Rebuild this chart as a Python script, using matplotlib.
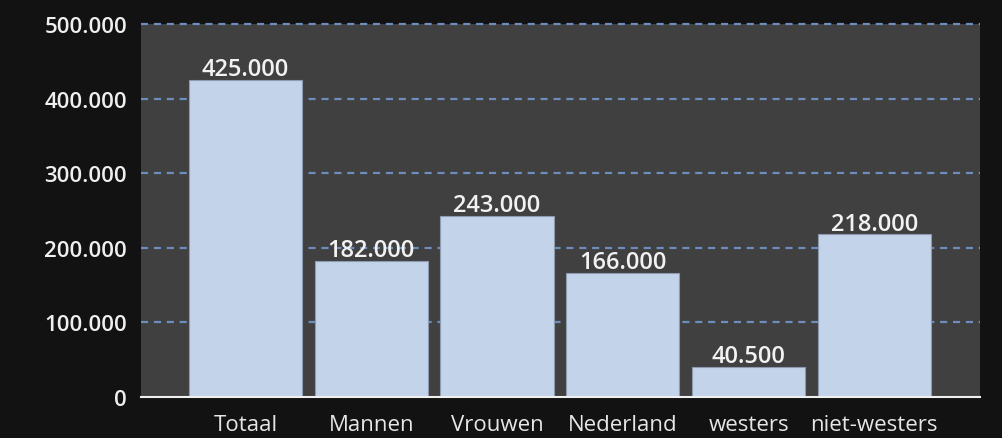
import matplotlib
matplotlib.use("Agg")
import matplotlib.pyplot as plt

# data
categories = ["Totaal", "Mannen", "Vrouwen", "Nederland", "westers", "niet-westers"]
values = [425000, 182000, 243000, 166000, 40500, 218000]
value_labels = ["425.000", "182.000", "243.000", "166.000", "40.500", "218.000"]
yticks = [0, 100000, 200000, 300000, 400000, 500000]
ytick_labels = ["0", "100.000", "200.000", "300.000", "400.000", "500.000"]

plt.rcParams["font.family"] = ["Open Sans", "DejaVu Sans"]

fig = plt.figure(figsize=(10.03, 4.39), dpi=100, facecolor="#121212")
ax = fig.add_axes([141 / 1003, 1 - 398 / 439, (980 - 141) / 1003, (398 - 25) / 439])
ax.set_facecolor("#404040")

x = list(range(len(categories)))
bars = ax.bar(x, values, width=0.9, color="#c3d3ea", edgecolor="#8d9bb0",
              linewidth=0.8, zorder=3)

for b, lab in zip(bars, value_labels):
    ax.annotate(lab, (b.get_x() + b.get_width() / 2, b.get_height()),
                xytext=(0, 3.5), textcoords="offset points", ha="center", va="baseline",
                color="#f2f2f2", fontsize=17, fontweight="semibold", zorder=4)

ax.set_xlim(-0.83, 5.84)
ax.set_ylim(0, 500000)

# dashed grid lines
for t in yticks[1:]:
    ax.axhline(t, color="#6d8dbf", lw=1.6, ls=(0, (3.2, 2.6)), zorder=1, clip_on=False)

ax.set_yticks(yticks)
ax.set_yticklabels(ytick_labels, color="#efefef", fontsize=16, fontweight="semibold")
ax.set_xticks(x)
ax.set_xticklabels(categories, color="#e6e6e6", fontsize=16)
ax.tick_params(axis="y", length=0, pad=10)
ax.tick_params(axis="x", length=0, pad=12)

for side in ["top", "right", "left"]:
    ax.spines[side].set_visible(False)
ax.spines["bottom"].set_color("#f0f0f0")
ax.spines["bottom"].set_linewidth(1.5)
ax.spines["bottom"].set_zorder(5)

fig.savefig("out.png", dpi=100, facecolor=fig.get_facecolor())
